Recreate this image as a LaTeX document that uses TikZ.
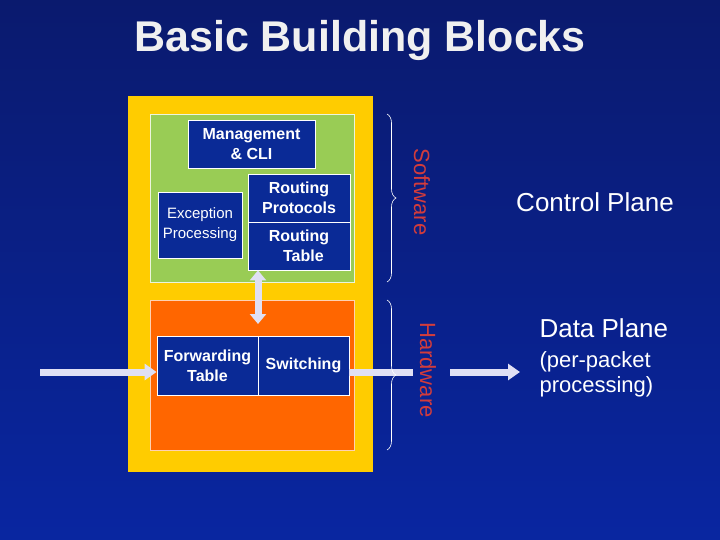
\documentclass[tikz,border=0pt]{standalone}
\usepackage{fontspec}
\setmainfont{Liberation Sans}
\usetikzlibrary{decorations.pathreplacing,arrows.meta}
\definecolor{navy}{HTML}{0A1A6E}
\definecolor{boxblue}{HTML}{0A2A96}
\definecolor{ylw}{HTML}{FFCC00}
\definecolor{grn}{HTML}{99CC55}
\definecolor{org}{HTML}{FF6600}
\definecolor{lav}{HTML}{E0E0F4}
\definecolor{redt}{HTML}{D23C3C}
\tikzset{
 blk/.style={draw=white,line width=0.8pt,fill=boxblue,text=white,align=center,inner sep=0pt,font=\fontsize{16}{20}\selectfont\bfseries},
 arr/.style={draw=lav,line width=7pt,-{Triangle[length=12pt,width=16pt]}},
 brc/.style={draw=white,line width=0.6pt,decorate,decoration={brace,amplitude=9pt}},
 lbl/.style={text=white,font=\fontsize{26}{30}\selectfont},
}
\begin{document}
\begin{tikzpicture}[x=1pt,y=-1pt]
\shade[top color=navy,bottom color=boxblue!90!blue] (0,0) rectangle (720,540);
\node[text=white!88!gray,font=\fontsize{43}{46}\selectfont\bfseries] (title) at (360,40) {Basic Building Blocks};
\node[fill=ylw,minimum width=245,minimum height=376,inner sep=0] (yel) at (250.5,284) {};
\node[fill=grn,draw=white!80!grn,minimum width=204,minimum height=168,inner sep=0] (grnb) at (252,198) {};
\node[fill=org,draw=white!70!org,minimum width=204,minimum height=150,inner sep=0] (orgb) at (252,375) {};
\node[blk,minimum width=127,minimum height=48] (mgmt) at (251.5,144) {Management\\\& CLI};
\node[blk,font=\fontsize{15}{20}\selectfont,minimum width=84,minimum height=66] (exc) at (200,225) {Exception\\Processing};
\node[blk,minimum width=102,minimum height=48] (rp) at (299,198) {Routing\\Protocols};
\node[blk,minimum width=102,minimum height=48] (rt) at (299,246) {Routing\\\ \ Table};
\node[blk,minimum width=101,minimum height=59] (fwd) at (207.5,365.5) {Forwarding\\Table};
\node[blk,minimum width=91,minimum height=59] (sw) at (303.5,365.5) {Switching};
\coordinate (dn) at (258,324);
\draw[draw=lav,line width=7pt,{Triangle[length=10pt,width=16pt]}-{Triangle[length=10pt,width=16pt]}] (rt.south -| dn) -- (dn);
\coordinate (in) at (40,372);
\draw[arr] (in) -- (fwd.west |- in);
\coordinate (o1) at (413,372);
\draw[draw=lav,line width=7pt] (sw.east |- o1) -- (o1);
\coordinate (o2) at (450,372);
\coordinate (o3) at (520,372);
\draw[arr] (o2) -- (o3);
\coordinate (s1) at (387,114); \coordinate (s2) at (387,282);
\draw[brc] (s1) -- (s2);
\coordinate (h1) at (387,300); \coordinate (h2) at (387,450);
\draw[brc] (h1) -- (h2);
\node[text=redt,rotate=-90,font=\fontsize{22}{24}\selectfont] (sft) at (422,192) {Software};
\node[text=redt,rotate=-90,font=\fontsize{22}{24}\selectfont] (hdw) at (428,370) {Hardware};
\node[lbl] (cp) at (595,202) {Control Plane};
\node[lbl,anchor=west] (dp) at (536,328) {Data Plane};
\node[text=white,anchor=west,align=left,font=\fontsize{22}{25}\selectfont] (pp) at (536,374) {(per-packet\\processing)};
\end{tikzpicture}
\end{document}
